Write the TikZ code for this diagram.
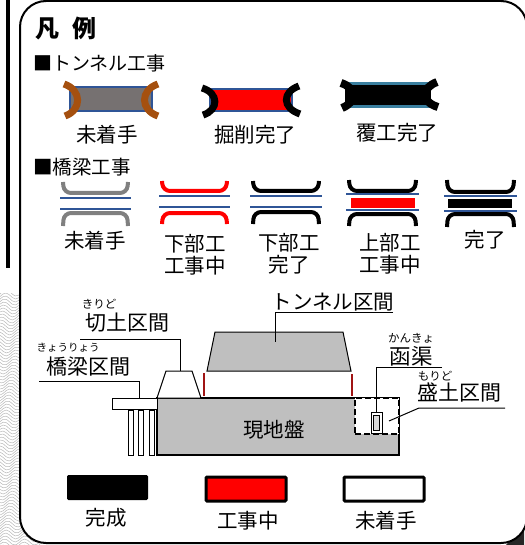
\documentclass[tikz,border=0pt]{standalone}
\usepackage{fontspec}
\setmainfont{Noto Sans CJK JP}
\usepackage{tikz}
\definecolor{liningblue}{HTML}{2F5597}
\definecolor{coverteal}{HTML}{3A7F9F}
\definecolor{rockgray}{HTML}{767171}
\definecolor{groundgray}{HTML}{BFBFBF}
\definecolor{portalbrown}{HTML}{A5500F}
\definecolor{wallred}{HTML}{A01414}
\tikzset{
  x=1pt, y=-1pt,
  label/.style={inner sep=0pt, font=\fontsize{20.5}{20.5}\selectfont, text=black},
  ruby/.style={inner sep=0pt, font=\fontsize{11.5}{11.5}\selectfont, text=black},
  leader/.style={draw, line width=1pt},
  portal/.style={line width=7pt},
  abutment/.style={line width=4pt, rounded corners=7pt},
  girder/.style={liningblue, line width=2.4pt},
  legendbox/.style={draw, line width=3pt, minimum width=80pt, minimum height=24pt, inner sep=0pt, rounded corners=1pt},
}
% one bridge: colour, left, right, top, upper web, lower web, bottom, deck lines
\newcommand{\bridgeform}[9]{
  \draw[abutment, #1] (#2,#4) -- (#2+1,#5) -- (#3,#5) -- (#3+1,#4);
  \draw[abutment, #1] (#2,#7) -- (#2+1,#6) -- (#3,#6) -- (#3+1,#7);
  \draw[girder] (#2-3,#8) -- (#3+4,#8);
  \draw[girder] (#2-3,#9) -- (#3+4,#9);
}
\begin{document}
\begin{tikzpicture}
  \useasboundingbox (0,0) rectangle (524,545);
  % map behind the legend
  \begin{scope}
    \clip (0,293) rectangle (524,545);
    \foreach \ypos in {290,293,...,548} {
      \draw[black!28, line width=0.5pt] plot[domain=0:40, samples=14, smooth] (\x,{\ypos+3*sin(\x*18+\ypos*3)});
    }
    \fill[black!85] (506,545) -- (524,526) -- (524,545) -- cycle;
  \end{scope}
  \fill[black] (6,0) rectangle (10,268);
  \draw[fill=white, line width=2pt, rounded corners=26pt] (20,1) rectangle (527,543);

  \node[inner sep=0pt, font=\fontsize{24}{24}\selectfont\bfseries, anchor=west] (title) at (35,28) {凡\hspace{0.55em}例};
  \node[label, font=\fontsize{19}{19}\selectfont, anchor=west] (tunnelhead) at (33,63) {■トンネル工事};
  \node[label, font=\fontsize{19.5}{19.5}\selectfont, anchor=west] (bridgehead) at (33,167) {■橋梁工事};

  % tunnel works
  \draw[fill=rockgray, draw=liningblue, line width=2pt] (70,87) rectangle (152,111);
  \draw[portal, portalbrown] (64,84) .. controls (82,90) and (82,110) .. (65,116);
  \draw[portal, portalbrown] (158,84) .. controls (140,90) and (140,110) .. (158,116);
  \draw[fill=red, draw=liningblue, line width=2pt] (210,89) rectangle (292,111);
  \draw[portal, black] (202,88) .. controls (219,93) and (219,110) .. (203,115);
  \draw[portal, black] (299,86) .. controls (282,92) and (282,108) .. (300,114);
  \fill[coverteal] (345,82) rectangle (431,108);
  \fill[black] (345,85) rectangle (431,105);
  \draw[line width=8pt] (341,83) .. controls (357,88) and (357,102) .. (342,108);
  \draw[line width=8pt] (437,82) .. controls (421,88) and (421,102) .. (438,107);
  \node[label] (tunnelnone) at (107,135) {未着手};
  \node[label] (tunneldug) at (255,135) {掘削完了};
  \node[label] (tunneldone) at (397,133) {覆工完了};

  % bridge works
  \bridgeform{black!50}{63}{127}{182}{193}{213}{226}{198}{209}
  \bridgeform{red}{162}{226}{181}{191}{213}{224}{196}{207}
  \bridgeform{black}{253}{318}{181}{191}{212}{224}{196}{207}
  \bridgeform{black}{349}{415}{180}{191}{214}{226}{194}{210}
  \bridgeform{black}{447}{513}{180}{192}{214}{227}{196}{211}
  \fill[red] (351,198) rectangle (415,208);
  \fill[black] (448,199) rectangle (512,208);
  \node[label] (bridgenone) at (95,241) {未着手};
  \node[label, align=center] (bridgelow) at (195,255) {下部工\\[2pt]工事中};
  \node[label, align=center] (bridgelowdone) at (289,254) {下部工\\[2pt]完了};
  \node[label, align=center] (bridgeup) at (390,254) {上部工\\[2pt]工事中};
  \node[label] (bridgedone) at (485,240) {完了};

  % section through the route
  \node[draw, fill=groundgray, line width=1.2pt, minimum width=242pt, minimum height=57pt, inner sep=0pt] (ground) at (278,426.5) {};
  \node[label] (groundtext) at (274,430) {現地盤};
  \filldraw[fill=white, line width=1pt] (157,398) -- (166,371) -- (192,371) -- (201,398) -- cycle;
  \filldraw[fill=groundgray, line width=1pt] (207,371) -- (215,332) -- (343,332) -- (351,371) -- cycle;
  \draw[wallred, line width=2pt] (204,373) -- (204,396);
  \draw[wallred, line width=2pt] (352,374) -- (352,396);
  \node[draw, fill=white, line width=0.8pt, minimum width=45pt, minimum height=11pt, inner sep=0pt] (deck) at (134.5,403.5) {};
  \foreach \pilex in {130.5,140.5,151.5} {
    \draw[fill=white, line width=0.7pt] (\pilex-2.5,410) rectangle (\pilex+2.5,455);
  }
  \node[draw, fill=white, dash pattern=on 6pt off 3pt, line width=2pt, minimum width=44pt, minimum height=36pt, inner sep=0pt] (fill) at (377,416) {};
  \node[draw, fill=white, line width=0.8pt, minimum width=11pt, minimum height=21pt, inner sep=0pt] (culvert) at (376.5,422.5) {};
  \draw[fill=black!15, line width=0.6pt] (373.5,415) rectangle (379.5,430);

  % leaders
  \coordinate (cutfrom) at (80,339);
  \coordinate (cutbend) at (180,339);
  \coordinate (cutto) at (180,371);
  \coordinate (bridgefrom) at (39,381);
  \coordinate (bridgebend) at (139,381);
  \coordinate (tunnelfrom) at (393,312);
  \coordinate (tunnelbend) at (275,312);
  \coordinate (tunnelto) at (275,342);
  \coordinate (culvertfrom) at (442,367);
  \coordinate (culvertbend) at (376,367);
  \coordinate (fillfrom) at (505,408);
  \coordinate (fillbend) at (419,408);
  \coordinate (fillto) at (389,421);
  \draw[leader] (cutfrom) -- (cutbend) -- (cutto);
  \draw[leader] (bridgefrom) -- (bridgebend) -- (bridgebend |- deck.north);
  \draw[leader] (tunnelfrom) -- (tunnelbend) -- (tunnelto);
  \draw[leader] (culvertfrom) -- (culvertbend) -- (culvertbend |- culvert.north);
  \draw[leader] (fillfrom) -- (fillbend) -- (fillto);

  \node[ruby] (cutruby) at (99,304) {きりど};
  \node[label, font=\fontsize{21}{21}\selectfont] (cuttext) at (127,323) {切土区間};
  \node[ruby, font=\fontsize{10.5}{10.5}\selectfont] (bridgeruby) at (68,348) {きょうりょう};
  \node[label, font=\fontsize{21}{21}\selectfont] (bridgetext) at (88,367) {橋梁区間};
  \node[label] (tunneltext) at (333,302) {トンネル区間};
  \node[ruby] (culvertruby) at (411,338) {かんきょ};
  \node[label, font=\fontsize{21.5}{21.5}\selectfont] (culverttext) at (411,356) {函渠};
  \node[ruby] (fillruby) at (435,376) {もりど};
  \node[label, font=\fontsize{21}{21}\selectfont] (filltext) at (459,393) {盛土区間};

  % key
  \node[legendbox, fill=black, line width=1pt] (keydone) at (107.5,487.5) {};
  \node[legendbox, fill=red] (keywork) at (246,489) {};
  \node[legendbox, fill=white] (keynone) at (384,489) {};
  \node[label] (keydonetext) at (106,518) {完成};
  \node[label] (keyworktext) at (248,521) {工事中};
  \node[label] (keynonetext) at (386,521) {未着手};
\end{tikzpicture}
\end{document}
